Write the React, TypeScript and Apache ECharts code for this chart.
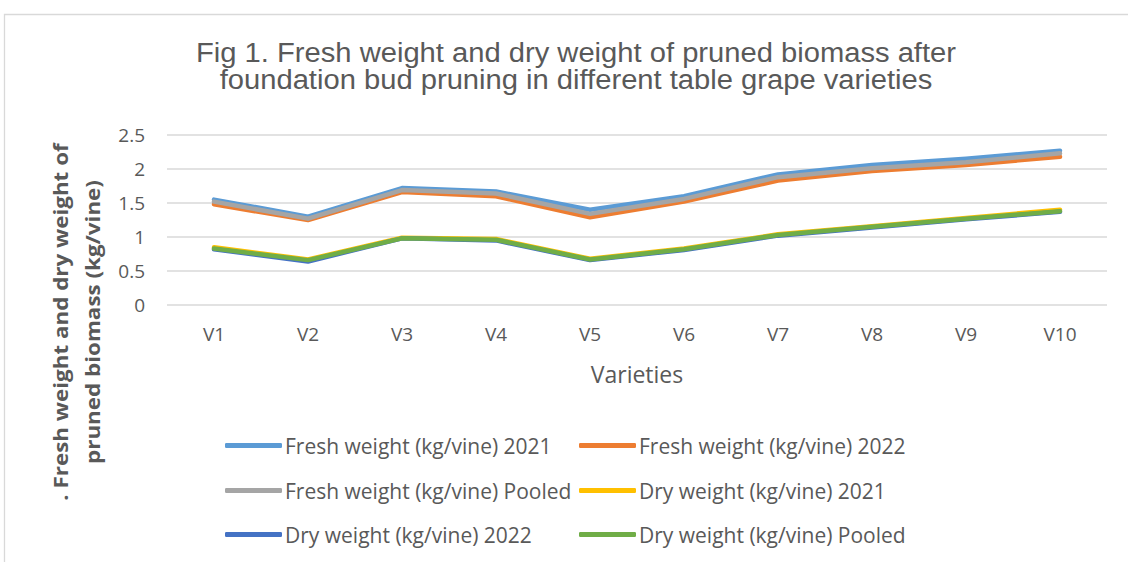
import React, { useEffect, useRef } from "react";
import * as echarts from "echarts";

const categories = ["V1", "V2", "V3", "V4", "V5", "V6", "V7", "V8", "V9", "V10"];
const yTicks = [0, 0.5, 1, 1.5, 2, 2.5];

const fresh2021 = [1.55, 1.30, 1.72, 1.67, 1.40, 1.60, 1.92, 2.06, 2.15, 2.27];
const fresh2022 = [1.48, 1.25, 1.66, 1.60, 1.29, 1.52, 1.83, 1.97, 2.06, 2.18];
const freshPooled = [1.52, 1.27, 1.69, 1.64, 1.34, 1.56, 1.88, 2.01, 2.10, 2.23];
const dry2021 = [0.85, 0.67, 0.99, 0.97, 0.68, 0.83, 1.04, 1.16, 1.28, 1.40];
const dry2022 = [0.82, 0.64, 0.98, 0.95, 0.66, 0.81, 1.02, 1.14, 1.26, 1.37];
const dryPooled = [0.83, 0.66, 0.98, 0.96, 0.67, 0.82, 1.03, 1.15, 1.27, 1.38];

const seriesNames = [
  "Fresh weight (kg/vine) 2021",
  "Fresh weight (kg/vine) 2022",
  "Fresh weight (kg/vine) Pooled",
  "Dry weight (kg/vine) 2021",
  "Dry weight (kg/vine) 2022",
  "Dry weight (kg/vine) Pooled",
];
const seriesData = [fresh2021, fresh2022, freshPooled, dry2021, dry2022, dryPooled];
const colors = ["#5B9BD5", "#ED7D31", "#A5A5A5", "#FFC000", "#4472C4", "#70AD47"];

const titleText =
  "Fig 1. Fresh weight and dry weight of pruned biomass after\nfoundation bud pruning in different table grape varieties";
const yTitle = ". Fresh weight and dry weight of\npruned biomass (kg/vine)";
const xTitle = "Varieties";

// legend slot for each series: [column, row]
const legendSlots = [
  [0, 0],
  [1, 0],
  [0, 1],
  [1, 1],
  [0, 2],
  [1, 2],
];

export default function App() {
  const ref = useRef<HTMLDivElement>(null);
  useEffect(() => {
    if (!ref.current) return;
    const chart = echarts.init(ref.current, null, { renderer: "svg" });
    const font = "'Open Sans', Lato, sans-serif";
    const colLeft = [225, 579];
    const rowCenter = [446, 491, 535];
    const legends = seriesNames.map((name, i) => ({
      data: [name],
      left: colLeft[legendSlots[i][0]],
      top: rowCenter[legendSlots[i][1]] - 11,
      padding: 0,
      icon: "roundRect",
      itemWidth: 57,
      itemHeight: 5,
      itemGap: 0,
      textStyle: { color: "#595959", fontSize: 21, fontFamily: font, padding: [0, 0, 0, -2] },
    }));
    chart.setOption({
      animation: false,
      backgroundColor: "#ffffff",
      color: colors,
      grid: { left: 167, right: 21, top: 135, bottom: 257, containLabel: false },
      xAxis: {
        type: "category",
        data: categories,
        boundaryGap: true,
        axisLine: { show: false },
        axisTick: { show: false },
        axisLabel: { color: "#595959", fontSize: 19, fontFamily: font, margin: 19 },
        name: xTitle,
        nameLocation: "middle",
        nameGap: 57,
        nameTextStyle: { color: "#595959", fontSize: 23, fontFamily: font },
      },
      yAxis: {
        type: "value",
        min: yTicks[0],
        max: yTicks[yTicks.length - 1],
        interval: 0.5,
        axisLine: { show: false },
        axisTick: { show: false },
        splitLine: { lineStyle: { color: "#D9D9D9", width: 1.5 } },
        axisLabel: { color: "#595959", fontSize: 19, fontFamily: font, margin: 22 },
      },
      legend: legends,
      graphic: [
        {
          type: "rect",
          shape: { x: 4.5, y: 14.5, width: 1200, height: 700 },
          style: { fill: "none", stroke: "#D9D9D9", lineWidth: 1.3 },
          silent: true,
        },
        {
          type: "text",
          x: 576,
          y: 66,
          scaleX: 1.08,
          style: {
            text: titleText,
            textAlign: "center",
            textVerticalAlign: "middle",
            fontSize: 27,
            fontFamily: "'Liberation Sans', Arial, sans-serif",
            fill: "#595959",
            lineHeight: 27,
          },
        },
        {
          type: "text",
          x: 76,
          y: 322,
          rotation: Math.PI / 2,
          scaleX: 1.12,
          style: {
            text: yTitle,
            textAlign: "center",
            textVerticalAlign: "middle",
            fontSize: 20,
            fontWeight: "bold",
            fontFamily: font,
            fill: "#595959",
            lineHeight: 32,
          },
        },
      ],
      series: seriesNames.map((name, i) => ({
        name,
        type: "line",
        data: seriesData[i],
        symbol: "none",
        showSymbol: false,
        lineStyle: { width: 4.5, color: colors[i], cap: "round", join: "round" },
        itemStyle: { color: colors[i] },
        z: 2 + i,
      })),
    });
    return () => chart.dispose();
  }, []);
  return (
    <div
      ref={ref}
      style={{ position: "fixed", left: 0, top: 0, width: 1128, height: 562 }}
    />
  );
}
